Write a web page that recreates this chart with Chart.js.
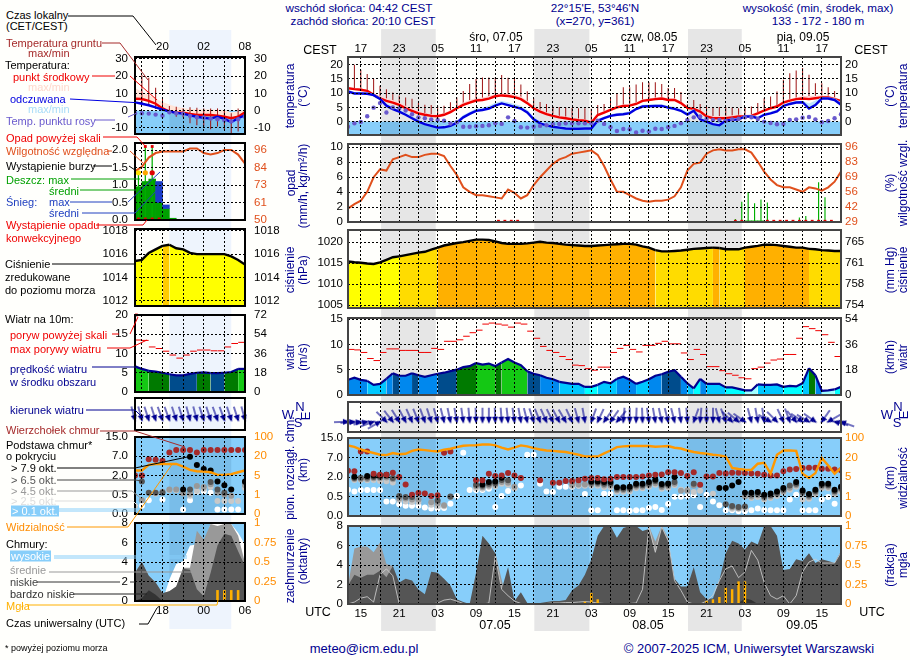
<!DOCTYPE html>
<html>
<head>
<meta charset="utf-8">
<title>meteogram</title>
<script src="https://cdnjs.cloudflare.com/ajax/libs/Chart.js/4.4.1/chart.umd.min.js"></script>
<style>
html, body { margin: 0; padding: 0; background: #fffffc; }
#page { position: relative; width: 910px; height: 660px; overflow: hidden; font-family: "Liberation Sans", Arial, sans-serif; }
#page canvas { position: absolute; }
#page svg { position: absolute; left: 0; top: 0; }
.t { position: absolute; white-space: nowrap; line-height: 1; }
</style>
</head>
<body>
<div id="page"></div>
<script>
// ---- main panels: one value per hour, 06.05 13 UTC (index 0) to 09.05 18 UTC (index 77)
var tempMid = [11.7,11.4,11.2,10.8,9.4,8.2,7.3,6.7,5.9,4.7,3.8,2.9,2.4,2,1.9,2.4,3.3,4.7,5.9,6.7,
  7.4,7.6,8.1,8.9,9.2,9,8.6,7.9,6.5,4.7,3.5,2.6,2,1.5,1.2,.8,.5,.35,-.4,2.3,
  3.2,4.1,5,5.5,5.6,6.2,7.3,7.6,7.9,8.1,7.6,7.6,6.5,4.8,4.5,3.5,1.8,1.2,1.2,1.2,
  1.5,1.8,1.8,2,2.9,3.9,4.7,5.3,6.7,7.4,7.9,8.1,7.9,8.2,8.5,8.5,7.9,7.2];
var tempMax = [12.2,11.8,11.6,11.2,10,9,8.2,7.6,6.8,5.6,4.7,3.7,3,2.6,2.5,3,4,5.4,6.7,7.6,
  8.3,8.5,9,9.8,10,9.9,9.5,8.8,7.3,5.6,4.3,3.3,2.6,2.1,1.8,1.4,1.1,.9,.2,2.8,
  3.8,4.7,5.6,6.1,6.2,6.8,7.9,8.2,8.5,8.7,8.2,8.2,7.1,5.4,5.1,4.1,2.6,2,2,2,
  2.2,2.4,2.4,2.6,3.4,4.4,5.2,5.8,7.2,8,8.5,9,9,9.1,9.2,9.2,8.6,7.8];
var feels = [10.6,9.9,9.9,9.8,9.3,8,5.6,4.4,3.5,2.4,1.2,0,-.9,-1.5,-2.1,-2,-1.5,-.4,1.5,2.7,
  3.8,4.1,4.6,5.6,6.4,5.8,5.2,4.6,3.2,.8,-.6,-1.3,-1.8,-2.1,-2.4,-2.5,-2.5,-2.4,-2.4,.3,
  1.2,2,2.4,2.6,3,4.4,5.3,5.4,5.5,5.5,4.9,4.5,3.8,2.5,3.8,.8,0,-.9,-1.3,.4,
  .6,.8,1.8,1.8,1.2,2.4,2.9,3.6,5.5,6.2,6.7,6.8,4.6,5.8,8.1,8.1,7.6,5.9];
var feelsMax = [11,10.4,10.4,10.3,9.8,8.6,6.4,5.2,4.3,3.2,2,.8,-.2,-.9,-1.5,-1.4,-.8,.4,2.3,3.5,
  4.6,5,5.6,6.6,7.2,6.8,6.2,5.6,4.2,1.8,.2,-.5,-1.1,-1.5,-1.8,-1.9,-1.9,-1.8,-1.8,.9,
  1.8,2.6,3,3.2,3.6,5,5.9,6,6.1,6.1,5.6,5.2,4.6,3.4,4.4,1.6,.8,0,-.6,.9,
  1.1,1.3,2.3,2.3,1.8,3,3.5,4.2,6,6.7,7.2,7.3,6.4,7.4,8.6,8.6,8.2,6.8];
var groundMax = [18,20,18.2,16.7,15,12.6,11.4,10.2,9.2,8.5,8,6.6,5.9,5.8,5.6,5.6,6.8,8.5,10.8,13.2,
  15,15.5,15.5,15.5,16.4,15.4,15,13,10.7,8.2,6.9,6.2,5.3,5.1,5,4.8,4.7,4.7,4.5,5.8,
  6.2,8.2,10,12.1,12.1,13,13.8,13.8,13.8,13.2,11.8,11.8,10.4,6.1,7.6,6.2,5.1,5.1,5.1,5.1,
  5,4.7,5,5.3,6.5,8.2,8.8,10.6,14.7,17,18,18.8,16.5,13.5,13.5,12.1,10.8,7.4];
var dewPoint = [-1.8,-.6,-.1,1.9,4.9,6.5,3.2,5,4.6,3.9,2.6,1.5,1.2,.8,.6,.3,-.7,-.2,-1.8,-1.8,
  -1.6,-1.5,-1.3,-.6,-.8,1.5,.2,-2,-2.1,-1.8,-1.5,-1.3,-.9,-.8,-.6,-.6,-.6,-.6,-.6,.3,
  -.8,-2,-3.3,-2.6,-2.7,-3.8,-3.2,-3.5,-2.5,-2.6,-2,-1.5,-.6,.6,1.5,1.8,.9,.6,.6,.3,
  .8,1,1.5,1.5,.9,0,-.5,-.9,-.8,.6,.8,1.4,1.6,.8,-.2,.2,1.2,2.6];
var humidity = [41,45,48,56,69,76,75,85,87,89,87,87,89,90,90,88,79,71,60,56,
  53,53,52,51,50,58,55,50,53,62,69,75,81,85,87,90,91,92,93,89,
  79,67,56,56,53,50,48,47,48,48,49,52,60,75,81,82,90,93,94,93,
  93,94,94,91,83,74,67,62,60,60,58,56,60,59,57,60,65,74];
var pressure = [1015.4,1015.2,1015.1,1014.9,1014.8,1015.2,1015.8,1016.4,1016.6,1016.9,
  1017.2,1017.5,1017.7,1018.2,1018.7,1019.2,1019.5,1019.8,1020,1020.3,
  1020.6,1020.6,1020.5,1020.2,1019.8,1019.6,1019.6,1019.6,1019.7,1019.9,
  1020.1,1019.9,1019.8,1019.6,1019.4,1019.3,1019.2,1019.1,1019.1,1019.2,
  1019.3,1019.4,1019.5,1019.6,1019.6,1019.4,1019,1018.7,1018.1,1017.8,
  1017.8,1017.9,1018,1018.2,1018.4,1018.5,1018.6,1018.7,1018.6,1018.3,
  1018.3,1018.3,1018.7,1018.9,1019.1,1019.4,1019.4,1019.3,1019.1,1018.9,
  1018.7,1018.7,1018.4,1018.3,1018.1,1018,1017.9,1017.9];
var windSpeed = [3,3.4,3,2.8,2,2.2,3.2,4.3,3.8,3.8,4.3,3.9,3.6,3.9,4.2,4.4,4.7,5,5.5,5.7,
  6.3,6,6.2,5.7,6.4,7.1,6.4,5.9,4.7,4.2,3.9,3.4,3.1,2.6,2.4,2.2,2.2,1.6,1.6,2,
  2.6,2.3,3.2,3.6,3,2.2,2.6,3.1,3.8,4.1,4.6,4.9,3.6,2.3,1.3,3.2,2.2,2.2,2.2,1.5,
  1.5,1.2,.9,.9,2.1,2,2,2.1,1.6,1.8,1.7,2.3,5.3,3.9,.8,.9,1.1,1.6];
// gusts belong to the hour between index i and i+1
var windGust = [9,8.9,8.4,7.2,6.8,8.4,9.1,9.1,8.8,8.8,8.8,8.4,8.4,9.2,9,10.6,10.6,10.9,11.6,12.3,
  12.8,14,14.2,14,13.8,13.4,14.2,14,12.6,11.2,9.6,8.8,8.4,7.6,7,5.9,5.8,5.2,4.9,5.5,
  5.5,8.4,9.2,9.8,9,8.5,9.8,9.8,10.2,10.6,10.1,10.1,8.3,7,9,8,5.6,5.6,4.8,4.2,
  3.9,3.4,3.2,5.2,5.5,6.3,6.9,7.1,8,8,11.2,13.5,13.1,12.7,11.9,10.4,7.6];
var windDir = [268,265,262,258,250,240,315,322,328,332,336,338,340,342,344,346,348,350,352,355,
  358,0,0,358,356,354,352,350,346,342,338,336,334,332,330,335,345,350,20,25,
  35,35,40,5,0,2,358,352,350,348,346,346,352,356,20,5,0,0,345,340,
  315,310,305,345,350,352,300,315,335,340,320,305,300,305,35,60,105,110];
// sparse series: hour index and value
var rainHours = [60,61,62,63,64,65,70,71,73,74];
var rainMax = [.4,2.7,4,2.5,3,2.6,.6,.8,5.3,3.3];
var rainMeanHours = [62,63,64];
var rainMean = [.15,.15,.15];
var convHours = [23,24,25,26,60,61,65,66,67,68,69,70,71,72,73,74,75];
var fogHours = [37,38,39,56,57,58,59,60,61,62];
var fogValues = [.03,.14,.06,.04,.06,.09,.21,.19,.29,.29];
var veryLowHours = [60,61,62,63,64];
var veryLow = [0,.1,.6,.4,0];

// cloud base and visibility axes are stretched, so these are positions
// on the evenly spaced 0.0 / 0.5 / 2.0 / 7.0 / 15.0 (0 / 1 / 5 / 20 / 100) ticks
var cloudTop = [2.32,2.29,3.31,3.31,2.17,2.12,2.12,2.22,2,1.62,1.09,1.18,1.16,1.02,1.06,3.24,3.31,null,null,null,
  1.83,1.83,2.17,2.05,2.08,2.2,2.08,1.95,null,null,1.83,null,1.71,1.71,1.79,1.79,1.83,1.91,1.95,1.95,
  1.88,1.91,2,2,2,2,2.03,2.08,2.12,2.13,2.24,2.25,2.2,2.05,2.24,1.6,2.03,2.03,2.2,2.18,
  2.22,2.22,2.2,2.18,2.17,2.12,2.08,2.08,2.3,2.39,2.41,2.46,2.47,2.47,2.42,2.42,2.39,2.34];
var base79 = [null,2.01,null,2.05,2.08,2.08,2.12,null,null,null,null,null,null,null,null,null,null,null,null,null,
  null,1.62,1.74,1.77,1.96,null,null,null,null,null,null,null,null,null,null,null,null,null,1.77,1.77,
  1.74,1.74,1.48,1.48,1.5,1.66,1.66,1.74,1.86,1.64,1.67,2,null,null,null,null,null,null,1.43,1.43,
  1.57,1.74,1.19,1.19,1.23,1.09,1.16,1.26,1.43,null,1.74,1.31,1.13,1.35,1.66,1.66,1.35,1.5];
var base65 = [null,1.95,1.96,1.97,2,2,2.05,1.95,1.02,.97,.97,null,null,null,.8,null,1,null,null,null,
  1.6,1.55,1.65,1.68,1.85,1.83,null,null,null,null,null,null,null,null,null,null,null,null,1.7,1.7,
  1.65,1.65,1.4,1.4,1.42,1.58,1.58,1.66,1.78,1.56,1.6,1.74,null,null,1.66,null,null,null,null,.6,
  .51,.46,.49,1.1,1.15,1,1.08,1.18,1.35,1.57,1.66,1.23,1.05,1.27,1.58,1.58,1.27,1.42];
var base45 = [null,1.9,1.9,1.9,1.93,1.93,1.97,1.88,.9,.9,.85,.85,null,.7,.65,.55,.98,null,null,null,
  1.53,1.48,1.57,1.6,1.75,1.7,1.5,null,null,null,null,null,null,null,null,1.6,1.62,1.62,1.63,1.63,
  1.56,1.56,1.32,1.32,1.34,1.5,1.5,1.58,1.68,1.48,1.52,1.66,1.3,1.3,1.56,null,null,null,null,null,
  .45,.4,1,1,1.07,.92,1,1.1,1.27,1.45,1.58,1.15,.97,1.19,1.5,1.5,1.19,1.34];
var base25 = [null,1.85,1.85,1.83,1.85,1.8,1.78,1.72,.82,.75,.72,.72,null,.58,.5,.5,null,null,null,null,
  1.42,1.4,1.5,1.52,1.65,1.6,1.42,null,null,null,null,null,null,null,null,1.52,1.55,1.55,1.55,1.55,
  1.48,1.48,1.24,1.24,1.26,1.42,1.42,1.5,1.6,1.4,1.44,1.58,1.35,1.35,1.23,1.3,null,1.14,null,null,
  .37,.37,.38,.92,.97,.85,.92,1.02,1.2,1.35,1.5,.85,.88,1.1,1.42,1.42,1.1,1.25];
var base01 = [1.35,1.26,1.33,1.33,1.33,1.33,.75,.75,.6,.53,.53,.53,.44,.38,.38,.41,.63,1.02,3.24,1.33,
  1.33,1.33,1.4,.46,1.02,1.28,1.43,1.57,3.14,3.14,1.66,1.26,1.23,1.5,1.5,1.5,1.57,1.13,.29,.29,
  1.14,1.14,.29,.29,.27,.29,.29,.41,.46,.31,.61,.99,.99,1.02,1.06,.46,1.09,.75,.55,.29,
  .29,.24,.24,.29,.38,.31,.29,.29,.29,.85,1.09,.29,.29,.29,.84,.97,.63,null];
var visibility = [3.62,3.55,3.41,3.31,3.23,3.14,3.12,3.23,3.17,3.19,3.34,3.41,3.38,3.34,3.31,3.4,3.45,3.53,3.6,3.62,
  3.63,3.67,3.67,3.62,3.51,3.41,3.51,3.62,3.57,3.48,3.41,3.36,3.34,3.31,3.28,3.21,3.14,3.05,3.05,3.05,
  3.21,3.36,3.53,3.57,3.59,3.59,3.59,3.59,3.55,3.57,3.59,3.5,3.46,3.36,3.28,3.23,3.19,3.14,3.11,3.05,
  2.47,2.41,2.37,2.36,2.68,2.73,2.17,3.14,3.36,3.36,3.34,2.17,1.95,2.2,2.97,2.59,2.17,2.47];

var cloudLow = [1.9,3,2.7,3,3,3.4,2.75,3.9,2.2,2.6,2.4,1.5,1,3.3,3.2,2.6,1.9,.5,.2,0,
  3.2,7,6.2,5.2,1.5,3.8,.3,1.2,.1,.1,.1,.2,.3,.3,.4,1.4,1.9,3,4.6,7,
  8,8,6.8,7.8,8,8,7.5,7.7,5.3,7.9,6.5,2.6,1.8,1.8,3.8,1.2,.5,.6,2.4,5.2,
  6.5,6.2,5.6,6.4,6.1,8,8,7,3.5,3.6,4.6,4.4,5.2,4.2,4.6,4.4,4.2,5.4];
var cloudMid = [1.9,5.7,5.9,5.9,5.3,6.3,4.1,3.9,0,0,0,0,0,0,0,0,0,0,0,0,
  0,0,0,5.3,2.5,0,0,0,0,0,0,0,0,0,0,0,0,0,0,0,
  0,0,0,0,0,0,0,8,6.4,8,6.8,0,0,0,0,0,0,0,0,0,
  0,0,0,0,0,0,0,0,0,0,0,0,0,0,0,0,0,0];
var cloudHighLine = [0,.2,.6,.75,.2,3,3.6,2.9,0,0,0,0,0,0,.1,.4,.5,.3,.05,0,
  0,0,.1,4.9,1.5,.85,.3,.05,0,0,0,.05,.1,.1,.15,.15,.2,.25,.2,.1,
  .05,.05,0,0,.05,.1,1.5,7.9,5.3,7.9,6.5,2.4,1.4,.2,0,0,.3,.9,2.4,3.6,
  3.9,2.7,3.3,5.5,4.5,2.2,.85,.5,.85,0,.85,3.3,4.3,4.6,4.2,4.2,4.2,5.3];

// ---- small legend panels: one value per hour, 14 UTC (index 0) to 06 UTC (index 16)
var sTemp = [6.9,6.7,5.6,4,1.3,-.6,-1,-1.2,-1.9,-2.5,-2.5,-2.5,-2.9,-3.5,-4.4,-3.5,-1];
var sTempMax = [12.9,11,9,7,5,3.5,2.3,1.5,1,.8,.8,.6,.5,.3,-1,-.5,.5];
var sFeels = [4.8,4,3.1,1.9,.6,-.4,-1.3,-1.7,-2.7,-3.5,-4.2,-4.6,-3.5,-4.8,-6.7,-4.4,-2.7];
var sDew = [-1.5,-1.5,-1.7,-2.3,-2.9,-1,-1.5,-1.7,-3,-3.8,-4,-4.6,-5,-5.6,-6.2,-5,-3.5];
var sGroundMax = [5,20.6,19,13.3,7,2.7,2.3,1.3,1.9,1.7,1.3,1.3,1.3,.4,-1.5,1.3,2.7];
var sGroundMin = [4,5,3,1,0,-1.5,-3.5,-3.8,-7.3,-8.5,-9.2,-10.8,-9.2,-11,-13,-12,-1.5];
var sHumidity = [82,85,91,94,95,95,95,95,97,97,94,93,94,96,96,93,87];
var sRainMean = [.95,1.1,1.17,.5,.33,.05,0,0,0,0,0,0,0,0,0,0];
var sSnowHours = [3,4];
var sSnowLow = [.5,.33];
var sSnowHigh = [1.1,.43];
var sRainMaxHours = [0,1,2];
var sRainMax = [1.3,2.1,2.1];
var sStormColors = ['#ffe000','#ffa500','#e00000'];
var sStormLevel = [1.35,1.35,1.35];
var sOverHours = [1,2];
var sOverLevel = [2.1,2.1];
var sConvHours = [0,1,2,3];
var sPressure = [1015.4,1015.5,1016.1,1016.4,1016.7,1016.8,1016.5,1016.4,1016.1,1016,1016,1016,1016,1016,1015.8,1015.5,1015.1];
var sWind = [6.7,6,5.5,5.3,5,4.6,4.3,4.3,4.7,5,5.1,4.9,4.9,5,5.2,6,6];
var sGust = [13.5,13.4,11.7,11.3,10.6,9.6,8.8,9.6,10.6,10.9,10.9,10.7,10.7,11.7,12.6,12.9];
var sDir = [345,345,342,342,340,340,342,342,345,345,342,342,340,340,342,342,345];
var sTop = [2,2,2.85,2.82,2.77,3.2,3.32,3.32,3.32,3.2,3.32,3.32,3.32,3.32,3.32,3.32,3.32];
var s79 = [null,null,null,null,null,null,null,1.27,2.97,2.55,2.34,2.26,1.69,1.49,1.27,null,1.69];
var s65 = [null,1.69,1.11,1.11,1.11,null,null,null,1.27,null,null,1.66,1.27,1.1,null,null,1.66];
var s45 = [null,.72,null,null,1.15,1.27,1.27,1.07,1.05,1.45,1.4,1.55,1.1,1,.95,null,1.5];
var s25 = [.41,null,null,1.05,null,1.23,1.23,null,.95,1.2,1.3,1.4,.68,.68,.68,.68,1.35];
var s01 = [null,.43,.72,null,.75,null,null,.24,.72,1.15,1.18,1.11,.24,.24,.24,.24,null];
var sVis = [2.26,2.26,2.55,2.6,2.6,2.6,2.6,2.46,2.29,2.22,2.2,2.17,2.03,2.03,2.07,2.17,2.26];
var sHigh = [0,0,0,0,0,2.2,3.8,4.1,5.7,5.8,6,7.9,7.9,7.9,7.9,7,5.8];
var sMid = [2.9,4,2.6,1.9,.8,1,1.5,3.4,3.4,7.2,6.3,7.9,7.7,7.9,7.9,6.7,3.9];
var sLow = [2.9,4,2.6,1.9,.8,1,1.5,3.3,3.2,1.2,.5,2.9,5.7,6.9,6.7,5.1,3.6];
var sVeryLow = [0,.3,1.1,.65,0];
var sFogHours = [12,13,14,15];
var sFog = [.14,.14,.14,.14];

// tick labels
var cestLabels = ['17','23','05','11','17','23','05','11','17','23','05','11','17'];
var utcLabels = ['15','21','03','09','15','21','03','09','15','21','03','09','15'];
var sLocalLabels = ['20','02','08'];
var sUtcLabels = ['18','00','06'];
var levelLabels = ['0.0','0.5','2.0','7.0','15.0'];
var visLabels = ['0','1','5','20','100'];
var fogLabels = ['0','0.25','0.5','0.75','1'];
var nightStart = [5.17,29.1,53.1];
var nightEnd = [13.7,37.7,61.5];
var sNightStart = [5];
var sNightEnd = [14];

var FONT = '"Liberation Sans", Arial, sans-serif';
var TICK = 11.5;
var ORANGE = '#ff8c00', RH = '#e0501c', SKY = '#87cefa';
var page = document.getElementById('page');
Chart.defaults.font.family = FONT;

function series(arr, from) {
    return arr.map(function(y, i) { return { x: i + (from || 0), y: y }; });
}
function sparse(xs, ys, from) {
    return xs.map(function(x, i) { return { x: x + (from || 0), y: ys[i] }; });
}
function line(data, color, width, extra) {
    return Object.assign({ type: 'line', data: data, borderColor: color, borderWidth: width, pointRadius: 0, fill: false }, extra || {});
}
function area(data, color) {
    return { type: 'line', data: data, borderWidth: 0, borderColor: color, backgroundColor: color, pointRadius: 0, fill: 'start' };
}
function dots(data, color, r) {
    return { type: 'line', data: data, showLine: false, pointRadius: r || 3, pointBackgroundColor: color, pointBorderWidth: 0, borderWidth: 0 };
}
function bars(data, color, ratio) {
    return { type: 'bar', data: data, backgroundColor: color, grouped: false, barPercentage: ratio, categoryPercentage: 1, borderWidth: 0 };
}
function flags(data, color) {
    return { type: 'line', data: data, showLine: false, pointStyle: 'rect', pointRadius: 2, pointBackgroundColor: color, pointBorderWidth: 0, borderWidth: 0, clip: false };
}
function gustDashes(data) {
    return { type: 'line', data: data, showLine: false, pointStyle: 'line', pointRadius: 3.3, pointBorderColor: '#f00000', pointBorderWidth: 1, borderWidth: 0 };
}
function fogBars(data) {
    return bars(data, '#ffb000', .38);
}

// arrow drawn with its head at the middle of the sprite and tail pointing north,
// so pointRotation = wind bearing
var arrowSprite = document.createElement('canvas');
arrowSprite.width = 44; arrowSprite.height = 44;
(function() {
    var c = arrowSprite.getContext('2d');
    c.strokeStyle = '#000090'; c.fillStyle = '#000090'; c.lineWidth = 1.1;
    c.beginPath(); c.moveTo(22, 22); c.lineTo(22, 8); c.stroke();
    c.beginPath(); c.moveTo(22, 24); c.lineTo(19, 17); c.lineTo(25, 17); c.closePath(); c.fill();
})();
function arrows(dirs, level) {
    return { type: 'line', data: dirs.map(function(d, i) { return { x: i, y: level }; }), showLine: false, borderWidth: 0,
        pointStyle: arrowSprite, pointRadius: 10, pointRotation: dirs, clip: false };
}

var panelPlugin = {
    id: 'panelDecor',
    beforeDatasetsDraw: function(chart) {
        var o = chart.config.options.decor, a = chart.chartArea, c = chart.ctx, x = chart.scales.x;
        if (o.sky === undefined) return;
        var top = o.sky === null ? a.top : chart.scales.y.getPixelForValue(o.sky);
        c.save();
        c.fillStyle = SKY;
        c.fillRect(a.left, top, a.right - a.left, a.bottom - top);
        c.fillStyle = 'rgba(0,40,90,.1)';
        o.starts.forEach(function(s, i) {
            var l = x.getPixelForValue(s);
            c.fillRect(l, top, x.getPixelForValue(o.ends[i]) - l, a.bottom - top);
        });
        c.restore();
    },
    afterDraw: function(chart) {
        var o = chart.config.options.decor, a = chart.chartArea, c = chart.ctx;
        c.save();
        c.strokeStyle = o.frame; c.lineWidth = o.frameWidth;
        c.strokeRect(a.left, a.top, a.right - a.left, a.bottom - a.top);
        c.restore();
    }
};

// rect is the plot area in page pixels
function panel(p) {
    var pad = 16, xH = 21;
    var cv = document.createElement('canvas');
    var topExtra = p.xPos === 'top' ? xH : pad, botExtra = p.xPos === 'bottom' ? xH : pad;
    cv.style.left = (p.rect.l - p.leftW) + 'px';
    cv.style.top = (p.rect.t - topExtra) + 'px';
    cv.width = p.rect.r - p.rect.l + p.leftW + p.rightW;
    cv.height = p.rect.b - p.rect.t + topExtra + botExtra;
    page.appendChild(cv);

    var grid = { color: '#000', z: 1, drawTicks: false, lineWidth: 1, offset: false };
    var scales = {
        x: {
            type: 'linear', min: p.xMin, max: p.xMax, offset: false,
            position: p.xPos || 'bottom',
            afterBuildTicks: function(a) { a.ticks = p.xGrid.map(function(v) { return { value: v }; }); },
            afterFit: function(s) { s.height = p.xPos ? xH : 0; },
            grid: grid, border: { display: false, dash: [2, 2] },
            ticks: {
                display: !!p.xPos, autoSkip: false, maxRotation: 0, padding: p.xPad === undefined ? 3 : p.xPad, color: '#000',
                font: { size: TICK },
                callback: function(v) {
                    var k = (v - p.xFirst) / 6;
                    return (p.xLabels && k === Math.floor(k)) ? p.xLabels[k] : '';
                }
            }
        },
        y: {
            position: 'left', min: p.y.min, max: p.y.max,
            afterBuildTicks: function(a) { a.ticks = p.y.ticks.map(function(v) { return { value: v }; }); },
            afterFit: function(s) { s.width = p.leftW; },
            grid: p.noYGrid ? { display: false, drawTicks: false } : grid,
            border: { display: false, dash: [2, 2] },
            ticks: {
                autoSkip: false, padding: p.leftPad, color: '#000', font: { size: TICK },
                callback: function(v, i) { return p.y.labels[i]; }
            }
        }
    };
    if (p.r) {
        scales.y2 = {
            position: 'right', min: p.r.min, max: p.r.max,
            afterBuildTicks: function(a) { a.ticks = p.r.ticks.map(function(v) { return { value: v }; }); },
            afterFit: function(s) { s.width = p.rightW; },
            grid: { display: false, drawTicks: false }, border: { display: false },
            ticks: {
                autoSkip: false, padding: p.rightPad, color: p.r.color || '#000', font: { size: TICK },
                callback: function(v, i) { return p.r.labels[i]; }
            }
        };
    }
    // painter's order: later datasets on top
    var n = p.datasets.length;
    p.datasets.forEach(function(d, i) { d.order = n - i; });

    new Chart(cv.getContext('2d'), {
        type: 'line',
        data: { datasets: p.datasets },
        options: {
            responsive: false, animation: false, events: [],
            layout: { padding: { left: 0, right: p.r ? 0 : p.rightW, top: p.xPos === 'top' ? 0 : pad, bottom: p.xPos === 'bottom' ? 0 : pad } },
            plugins: { legend: { display: false }, tooltip: { enabled: false } },
            elements: { line: { tension: 0 } },
            scales: scales,
            decor: {
                sky: p.sky, starts: p.nightStart, ends: p.nightEnd,
                frame: p.frame, frameWidth: p.frameWidth
            }
        },
        plugins: [panelPlugin]
    });
}

// full height night stripes behind the panels
function nightLayer(l, r, t, b, xMin, xMax, starts, ends, color) {
    var cv = document.createElement('canvas');
    cv.style.left = l + 'px'; cv.style.top = t + 'px';
    cv.width = r - l; cv.height = b - t;
    page.appendChild(cv);
    new Chart(cv.getContext('2d'), {
        type: 'line',
        data: { datasets: [] },
        options: {
            responsive: false, animation: false, events: [],
            plugins: { legend: { display: false }, tooltip: { enabled: false } },
            scales: { x: { type: 'linear', min: xMin, max: xMax, display: false }, y: { display: false } }
        },
        plugins: [{
            id: 'night',
            beforeDraw: function(chart) {
                var x = chart.scales.x, c = chart.ctx;
                c.fillStyle = color;
                starts.forEach(function(s, i) {
                    var a = x.getPixelForValue(s);
                    c.fillRect(a, 0, x.getPixelForValue(ends[i]) - a, b - t);
                });
            }
        }]
    });
}

function pressureColor(ctx) {
    var v = ctx.p0.parsed.y;
    if (v >= 1018.65) return '#ffb000';
    if (v >= 1016.5) return '#ffdc00';
    return '#ffff00';
}
function smallPressureColor(ctx) {
    return (ctx.p0.parsed.y + ctx.p1.parsed.y) / 2 >= 1016.7 ? '#ffcc00' : '#ffff00';
}
function windColor(ctx) {
    var v = ctx.p0.parsed.y;
    if (v < 1) return '#a0ffff';
    if (v < 2) return '#00ffff';
    if (v < 3) return '#00c8ff';
    if (v < 4) return '#0088ee';
    if (v < 5) return '#004c8c';
    if (v < 5.8) return '#007a00';
    return '#14c814';
}

function mainPanel(o) {
    panel(Object.assign({
        leftW: 48, rightW: 39, leftPad: 5, rightPad: 4, xMin: 0, xMax: 77, xFirst: 2,
        xGrid: [2,5,8,11,14,17,20,23,26,29,32,35,38,41,44,47,50,53,56,59,62,65,68,71,74,77],
        nightStart: nightStart, nightEnd: nightEnd, frame: '#444', frameWidth: 2
    }, o));
}
function smallPanel(o) {
    panel(Object.assign({
        leftW: 36, rightW: 45, leftPad: 7, rightPad: 9, xMin: 0, xMax: 16, xFirst: 4,
        xGrid: [1,4,7,10,13,16],
        nightStart: sNightStart, nightEnd: sNightEnd, frame: '#000', frameWidth: 2
    }, o));
}

function cloudLevels(top, b79, b65, b45, b25, b01, vis) {
    return [
        dots(series(b01), '#ffffff'),
        dots(series(b25), '#c8c8c8'),
        dots(series(b45), '#999999'),
        dots(series(b65), '#555555'),
        dots(series(b79), '#000000'),
        dots(series(top), '#a52a2a'),
        line(series(vis), '#ff9800', 2.4)
    ];
}

nightLayer(348, 841, 29, 631, 0, 77, nightStart, nightEnd, '#e6e6e6');
nightLayer(135, 245, 30, 629, 0, 16, sNightStart, sNightEnd, '#eef4fd');

// ---- main column
mainPanel({
    rect: { l: 348, r: 841, t: 57, b: 135 }, xPos: 'top', xPad: 1, xLabels: cestLabels, sky: 0,
    y: { min: -4.7, max: 22.7, ticks: [0,5,10,15,20], labels: ['0','5','10','15','20'] },
    r: { min: -4.7, max: 22.7, ticks: [0,5,10,15,20], labels: ['0','5','10','15','20'] },
    datasets: [
        bars(tempMid.map(function(v, i) { return { x: i, y: [v, groundMax[i]] }; }), '#a01818', .16),
        line(series(tempMax), 'rgba(0,0,0,0)', 0, { fill: '+1', backgroundColor: '#ffd4d4' }),
        line(series(tempMid), '#f00000', 2.4),
        line(series(feelsMax), 'rgba(0,0,0,0)', 0, { fill: '+1', backgroundColor: '#bfe4fb' }),
        line(series(feels), '#0000e0', 2.4),
        dots(series(dewPoint), '#6a5acd', 2.2)
    ]
});
mainPanel({
    rect: { l: 348, r: 841, t: 144, b: 222 },
    y: { min: 0, max: 10.4, ticks: [0,2,4,6,8,10], labels: ['0','2','4','6','8','10'] },
    r: { min: 29, max: 98.7, ticks: [29,42.4,55.8,69.2,82.6,96], labels: ['29','42','56','69','83','96'], color: RH },
    datasets: [
        bars(sparse(rainHours, rainMax, .5), '#00b000', .18),
        bars(sparse(rainMeanHours, rainMean, .5), '#00b000', 1),
        line(series(humidity), RH, 2, { yAxisID: 'y2' }),
        flags(sparse(convHours, convHours.map(function() { return .1; }), .5), '#e00000')
    ]
});
mainPanel({
    rect: { l: 348, r: 841, t: 230, b: 308 },
    y: { min: 1004.3, max: 1022.9, ticks: [1005,1010,1015,1020], labels: ['1005','1010','1015','1020'] },
    r: { min: 1004.3, max: 1022.9, ticks: [1005,1010,1015,1020], labels: ['754','758','761','765'] },
    datasets: [
        line(series(pressure), '#000', 2.4, { fill: 'start', backgroundColor: '#ffff00', segment: { backgroundColor: pressureColor } })
    ]
});
mainPanel({
    rect: { l: 348, r: 841, t: 318, b: 395 },
    y: { min: 0, max: 15.2, ticks: [0,5,10,15], labels: ['0','5','10','15'] },
    r: { min: 0, max: 15.2, ticks: [0,5,10,15], labels: ['0','18','36','54'] },
    datasets: [
        line(series(windSpeed), '#000090', 2.2, { fill: 'start', backgroundColor: '#0088ee', segment: { backgroundColor: windColor } }),
        gustDashes(series(windGust, .5))
    ]
});
mainPanel({
    rect: { l: 348, r: 841, t: 402, b: 432 }, noYGrid: true,
    y: { min: 0, max: 30, ticks: [], labels: [] },
    datasets: [arrows(windDir, 10.3)]
});
mainPanel({
    rect: { l: 348, r: 841, t: 438, b: 516 }, sky: null,
    y: { min: 0, max: 4, ticks: [0,1,2,3,4], labels: levelLabels },
    r: { min: 0, max: 4, ticks: [0,1,2,3,4], labels: visLabels, color: ORANGE },
    datasets: cloudLevels(cloudTop, base79, base65, base45, base25, base01, visibility)
});
mainPanel({
    rect: { l: 348, r: 841, t: 526, b: 604 }, sky: null, xPos: 'bottom', xLabels: utcLabels,
    y: { min: 0, max: 8, ticks: [0,2,4,6,8], labels: ['0','2','4','6','8'] },
    r: { min: 0, max: 1, ticks: [0,.25,.5,.75,1], labels: fogLabels, color: ORANGE },
    datasets: [
        area(series(cloudMid), '#999999'),
        area(series(cloudLow), '#555555'),
        area(sparse(veryLowHours, veryLow), '#333333'),
        line(series(cloudHighLine), 'rgba(205,205,205,.85)', 1),
        Object.assign(fogBars(sparse(fogHours, fogValues)), { yAxisID: 'y2' })
    ]
});

// ---- small column with the legend
smallPanel({
    rect: { l: 135, r: 245, t: 57, b: 134 }, xPos: 'top', xLabels: sLocalLabels, sky: 0,
    y: { min: -13.5, max: 31, ticks: [-10,0,10,20,30], labels: ['-10','0','10','20','30'] },
    r: { min: -13.5, max: 31, ticks: [-10,0,10,20,30], labels: ['-10','0','10','20','30'] },
    datasets: [
        line(series(sTempMax), 'rgba(0,0,0,0)', 0, { fill: '+1', backgroundColor: '#ffe4d8' }),
        line(series(sTemp), 'rgba(0,0,0,0)', 0),
        bars(sGroundMin.map(function(v, i) { return { x: i, y: [v, sGroundMax[i]] }; }), '#a01818', .15),
        line(series(sTemp), '#f00000', 2.4),
        line(series(sFeels), '#0000e0', 2.4),
        dots(series(sDew), '#6a5acd', 2.2)
    ]
});
smallPanel({
    rect: { l: 135, r: 245, t: 143, b: 220 },
    y: { min: 0, max: 2.2, ticks: [0,.5,1,1.5,2], labels: ['0.0','0.5','1.0','1.5','2.0'] },
    r: { min: 50, max: 100.6, ticks: [50,61.5,73,84.5,96], labels: ['50','61','73','84','96'], color: RH },
    datasets: [
        bars(series(sRainMean, .5), '#00a000', 1),
        bars(sSnowHours.map(function(h, i) { return { x: h + .5, y: [sSnowLow[i], sSnowHigh[i]] }; }), '#1c3cc8', 1),
        bars(sparse(sRainMaxHours, sRainMax, .5), '#00b000', .18),
        line(series(sHumidity), RH, 2, { yAxisID: 'y2' }),
        dots(sparse(sRainMaxHours, sStormLevel, .5), sStormColors, 2.6),
        flags(sparse(sOverHours, sOverLevel, .5), '#e00000'),
        flags(sparse(sConvHours, sConvHours.map(function() { return .03; }), .5), '#e00000')
    ]
});
smallPanel({
    rect: { l: 135, r: 245, t: 229, b: 306 },
    y: { min: 1011.55, max: 1018.15, ticks: [1012,1014,1016,1018], labels: ['1012','1014','1016','1018'] },
    r: { min: 1011.55, max: 1018.15, ticks: [1012,1014,1016,1018], labels: ['1012','1014','1016','1018'] },
    datasets: [
        line(series(sPressure), '#000', 2.4, { fill: 'start', backgroundColor: '#ffff00', segment: { backgroundColor: smallPressureColor } })
    ]
});
smallPanel({
    rect: { l: 135, r: 245, t: 315, b: 392 },
    y: { min: 0, max: 20, ticks: [0,5,10,15,20], labels: ['0','5','10','15','20'] },
    r: { min: 0, max: 20, ticks: [0,5,10,15,20], labels: ['0','18','36','54','72'] },
    datasets: [
        line(series(sWind), '#000090', 2.2, { fill: 'start', backgroundColor: '#004c8c', segment: { backgroundColor: windColor } }),
        gustDashes(series(sGust, .5)),
        flags(sparse([.2], [20]), '#e00000')
    ]
});
smallPanel({
    rect: { l: 135, r: 245, t: 398, b: 430 }, noYGrid: true,
    y: { min: 0, max: 32, ticks: [], labels: [] },
    datasets: [arrows(sDir, 10)]
});
smallPanel({
    rect: { l: 135, r: 245, t: 437, b: 514 }, sky: null,
    y: { min: 0, max: 4, ticks: [0,1,2,3,4], labels: levelLabels },
    r: { min: 0, max: 4, ticks: [0,1,2,3,4], labels: visLabels, color: ORANGE },
    datasets: cloudLevels(sTop, s79, s65, s45, s25, s01, sVis)
});
smallPanel({
    rect: { l: 135, r: 245, t: 523, b: 601 }, sky: null, xPos: 'bottom', xLabels: sUtcLabels,
    y: { min: 0, max: 8, ticks: [0,2,4,6,8], labels: ['0','2','4','6','8'] },
    r: { min: 0, max: 1, ticks: [0,.25,.5,.75,1], labels: fogLabels, color: ORANGE },
    datasets: [
        area(series(sHigh), '#ffffff'),
        area(series(sMid), '#999999'),
        area(series(sLow), '#555555'),
        area(series(sVeryLow), '#333333'),
        Object.assign(fogBars(sparse(sFogHours, sFog)), { yAxisID: 'y2' })
    ]
});

// ---- texts
var NAVY = '#000090', BROWN = '#a52a2a', RED = '#f00000', GREEN = '#00a000', SNOW = '#2040c0', PURPLE = '#6a5acd';
function text(s, x, y, color, o) {
    o = o || {};
    var d = document.createElement('div');
    d.className = 't';
    d.textContent = s;
    d.style.left = x + 'px'; d.style.top = y + 'px';
    d.style.color = color || '#000';
    d.style.fontSize = (o.size || 11) + 'px';
    if (o.bg) { d.style.background = o.bg; d.style.padding = '0 1px'; }
    if (o.bold) d.style.fontWeight = 'bold';
    var tr = o.center ? 'translate(-50%,-50%)' : 'translateY(-50%)';
    if (o.rot) tr = 'translate(-50%,-50%) rotate(' + o.rot + 'deg)';
    d.style.transform = tr;
    page.appendChild(d);
}
[
    ['Czas lokalny', 6, 15], ['(CET/CEST)', 6, 26],
    ['Temperatura gruntu', 6, 43, BROWN], ['max/min', 28, 53, BROWN],
    ['Temperatura:', 5, 65], ['punkt środkowy', 13, 77, RED], ['max/min', 28, 87, '#ffd8cc'],
    ['odczuwana', 10, 99, '#0000e0'], ['max/min', 28, 109, '#a8dcf8'],
    ['Temp. punktu rosy', 6, 121, PURPLE], ['Opad powyżej skali', 6, 138, RED],
    ['Wilgotność względna', 6, 151, RH], ['Wystąpienie burzy', 6, 166],
    ['Deszcz: max', 6, 180, GREEN], ['średni', 49, 191, GREEN],
    ['Śnieg:', 6, 202, SNOW], ['max', 49, 202, SNOW], ['średni', 49, 213, SNOW],
    ['Wystąpienie opadu', 6, 225, RED], ['konwekcyjnego', 6, 238, RED],
    ['Ciśnienie', 5, 264], ['zredukowane', 5, 277], ['do poziomu morza', 5, 290],
    ['Wiatr na 10m:', 5, 319], ['poryw powyżej skali', 10, 335, RED], ['max porywy wiatru', 10, 349, RED],
    ['prędkość wiatru', 10, 369, NAVY], ['w środku obszaru', 10, 382, NAVY],
    ['kierunek wiatru', 10, 410, NAVY], ['Wierzchołek chmur', 6, 430, BROWN],
    ['Podstawa chmur*', 6, 445], ['o pokryciu', 6, 456],
    ['> 7.9 okt.', 11, 468], ['> 6.5 okt.', 11, 480, '#555'], ['> 4.5 okt.', 11, 491, '#999'],
    ['> 2.5 okt.', 11, 501, '#ddd'], ['Widzialność', 6, 527, ORANGE],
    ['Chmury:', 6, 544], ['średnie', 10, 570, '#999'], ['niskie', 10, 582, '#444'],
    ['bardzo niskie', 10, 594, '#333'], ['Mgła', 6, 606, '#ffb000'],
    ['Czas uniwersalny (UTC)', 6, 623]
].forEach(function(r) { text(r[0], r[1], r[2], r[3]); });
text('> 0.1 okt.', 11, 511, '#fff', { bg: SKY });
text('wysokie', 10, 556, '#fff', { bg: SKY });
text('* powyżej poziomu morza', 5, 648, '#000', { size: 9 });

[
    ['wschód słońca: 04:42 CEST', 359, 8], ['zachód słońca: 20:10 CEST', 363, 21],
    ['22°15\'E, 53°46\'N', 595, 8], ['(x=270,  y=361)', 595, 21],
    ['wysokość (min, środek, max)', 818, 8], ['133 - 172 - 180 m', 818, 21]
].forEach(function(r) { text(r[0], r[1], r[2], NAVY, { center: true, size: 11.7 }); });
text('meteo@icm.edu.pl', 364, 648, NAVY, { center: true, size: 13 });
text('© 2007-2025 ICM, Uniwersytet Warszawski', 749, 648, NAVY, { center: true, size: 13 });

[['śro, 07.05', 496], ['czw, 08.05', 649], ['pią, 09.05', 803]].forEach(function(r) {
    text(r[0], r[1], 37, '#000', { center: true, size: 12 });
});
[['07.05', 495], ['08.05', 648], ['09.05', 802]].forEach(function(r) {
    text(r[0], r[1], 625, '#000', { center: true, size: 12.5 });
});
text('CEST', 320, 50, '#000', { center: true, size: 12.5 });
text('CEST', 871, 50, '#000', { center: true, size: 12.5 });
text('UTC', 318, 612, '#000', { center: true, size: 12.5 });
text('UTC', 872, 612, '#000', { center: true, size: 12.5 });

// rotated axis titles: text, x, centre y
[
    ['temperatura', 290, 96], ['(°C)', 303, 96], ['opad', 291, 183], ['(mm/h, kg/m²/h)', 303, 186],
    ['ciśnienie', 290, 270], ['(hPa)', 303, 270], ['wiatr', 290, 357], ['(m/s)', 303, 357],
    ['pion. rozciągł. chm.', 290, 468], ['(km)', 303, 470], ['zachmurzenie', 290, 566], ['(oktanty)', 303, 561],
    ['(°C)', 890, 96], ['temperatura', 903, 96], ['(%)', 890, 183], ['wilgotność wzgl.', 903, 183],
    ['(mm Hg)', 890, 270], ['ciśnienie', 903, 270], ['(km/h)', 890, 357], ['wiatr', 903, 357],
    ['(km)', 890, 478], ['widzialność', 903, 478], ['(frakcja)', 890, 565], ['mgła', 903, 565]
].forEach(function(r) { text(r[0], r[1], r[2], NAVY, { rot: -90, size: 12 }); });

// compass letters beside the wind direction strip
[[288, 415, 'W', 0], [300, 407, 'N', 0], [305, 416, 'E', -90], [298, 423, 'S', 0],
 [887, 415, 'W', 0], [898, 407, 'N', 0], [903, 415, 'E', -90], [897, 423, 'S', 0]].forEach(function(c) {
    text(c[2], c[0], c[1], NAVY, { rot: c[3] || 0.01, size: 13 });
});

// legend leader lines
var leaders = [
    ['#000', [[68,16],[133,16],[156,45]]],
    [BROWN, [[102,43],[120,43],[148,80]]],
    [RED, [[92,76],[115,76]]], [RED, [[130,76],[157,100]]],
    ['#0000e0', [[70,99],[143,103]]],
    [PURPLE, [[95,120],[115,120]]], [PURPLE, [[128,117],[137,113]]],
    [RED, [[103,137],[137,137],[146,147]]],
    [RH, [[107,151],[112,151]]], [RH, [[130,151],[143,163]]],
    ['#000', [[93,166],[112,166]]], ['#000', [[129,166],[135,170]]],
    [GREEN, [[71,179],[140,179]]], [GREEN, [[80,190],[143,190]]],
    [SNOW, [[70,202],[112,202]]], [SNOW, [[128,202],[160,172]]],
    [SNOW, [[82,213],[135,213],[160,187]]],
    [RED, [[96,225],[143,225],[147,220]]],
    ['#000', [[52,264],[135,264]]],
    [RED, [[112,334],[119,334]]], [RED, [[130,334],[138,317]]],
    [RED, [[107,348],[130,348],[147,340]]],
    [NAVY, [[92,367],[135,367],[143,370]]],
    [NAVY, [[86,410],[135,410],[143,418]]],
    [BROWN, [[100,431],[135,431],[185,447]]],
    ['#000', [[57,468],[135,468],[192,456]]],
    ['#444', [[57,480],[135,480],[143,481]]],
    ['#999', [[57,491],[132,491],[143,500]]],
    ['#ddd', [[55,501],[133,501],[138,506]]],
    [SKY, [[55,509],[137,509]]], [SKY, [[55,511],[137,511]]],
    ['#ff9800', [[67,527],[128,527],[173,463]]],
    [SKY, [[54,556],[187,556]]], [SKY, [[54,558],[187,558]]],
    ['#999', [[49,572],[193,572]]],
    ['#333', [[37,582],[120,582]]], ['#333', [[130,582],[135,582]]],
    ['#222', [[74,594],[147,594]]],
    ['#ffb000', [[27,605],[217,605],[218,600]]],
    ['#000', [[139,624],[148,624],[157,608]]]
];
var svgNS = 'http://www.w3.org/2000/svg';
var svg = document.createElementNS(svgNS, 'svg');
svg.setAttribute('width', 910); svg.setAttribute('height', 660);
leaders.forEach(function(l) {
    var el = document.createElementNS(svgNS, 'polyline');
    el.setAttribute('points', l[1].map(function(p) { return p.join(','); }).join(' '));
    el.setAttribute('fill', 'none'); el.setAttribute('stroke', l[0]); el.setAttribute('stroke-width', 1);
    svg.appendChild(el);
});
page.appendChild(svg);
</script>
</body>
</html>
